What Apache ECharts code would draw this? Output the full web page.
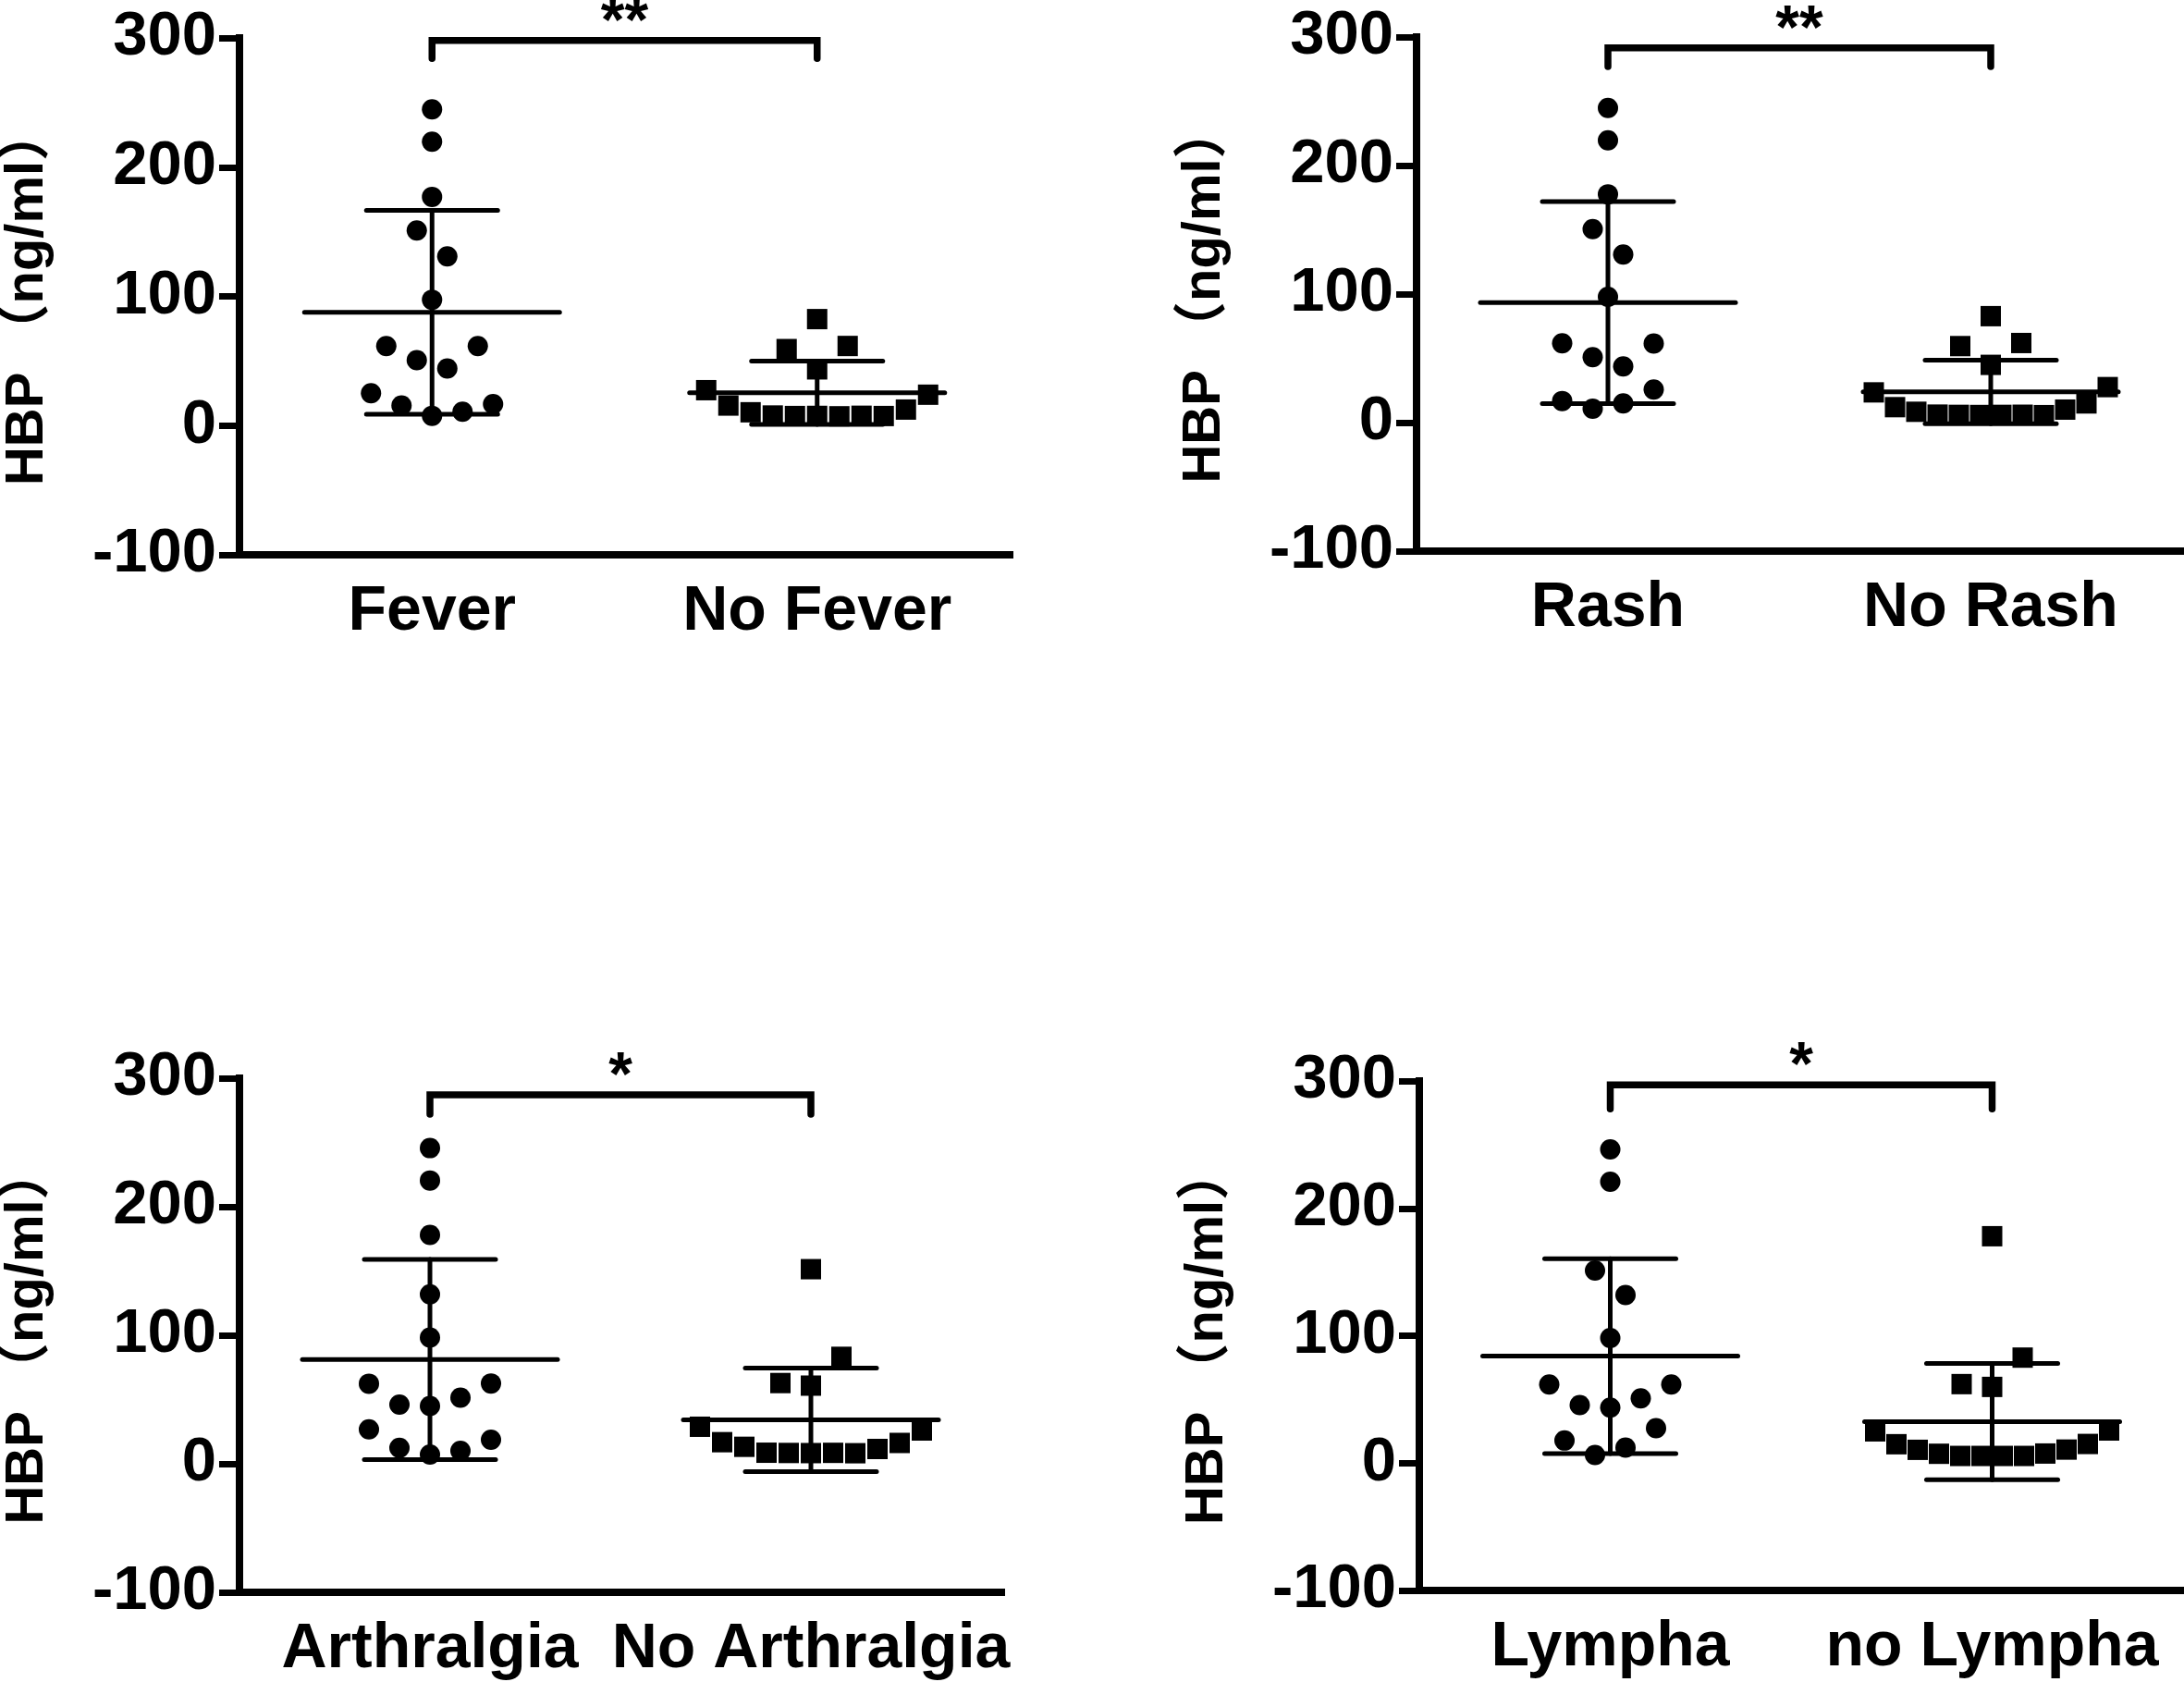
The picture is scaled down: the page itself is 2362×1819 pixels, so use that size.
<!DOCTYPE html>
<html>
<head>
<meta charset="utf-8">
<script src="https://cdn.jsdelivr.net/npm/echarts@6/dist/echarts.min.js"></script>
<style>
  html, body { margin: 0; padding: 0; background: #fff; }
  #chart { width: 2362px; height: 1819px; }
</style>
</head>
<body>
<div id="chart"></div>
<script>
// y axis ticks shared by all four panels
var yTicks = [-100, 0, 100, 200, 300];
var yTitle = 'HBP （ng/ml）';

// categories per panel
var catsFever = ['Fever', 'No Fever'];
var catsRash = ['Rash', 'No Rash'];
var catsArthralgia = ['Arthralgia', 'No Arthralgia'];
var catsLympha = ['Lympha', 'no Lympha'];

// HBP values (ng/ml), in entry order
var hbpFever = [244.7, 219.7, 177, 151, 131, 97.4, 61.6, 61.6, 50.6, 44.2, 25, 16.7, 15.5, 10.7, 7.6];
var hbpNoFever = [82.4, 59.2, 61.6, 43.5, 27.4, 23.9, 15.5, 12.4, 10.3, 7.4, 7.8, 7.6, 7.4, 7.2, 7.5];
var hbpRash = [244.8, 219.6, 177.6, 150.5, 130.8, 97.9, 61.7, 61.5, 50.9, 43.7, 16.8, 25.7, 10.8, 14.9];
var hbpNoRash = [82.8, 59.5, 61.9, 44.9, 23.5, 27.6, 12, 14.9, 8.4, 10.1, 6.2, 5.8, 6, 6.1, 5.9, 6];
var hbpArthralgia = [245.6, 220.4, 178, 131.8, 98.2, 62.3, 62.5, 46, 51.5, 45, 26.8, 18.7, 12.4, 10.1, 7.2];
var hbpNoArthralgia = [151.4, 62.8, 83.2, 60.8, 28.8, 25.9, 16.8, 16.2, 13.2, 11.5, 8.6, 8.2, 8.4, 8.5, 8.3];
var hbpLympha = [246.3, 220.9, 151.2, 131.9, 98.2, 61.7, 61.7, 45.5, 50.8, 43.5, 17.7, 27.4, 6.3, 12.1];
var hbpNoLympha = [178.1, 62, 82.8, 59.8, 24.9, 25.6, 14.8, 15, 10.4, 10.6, 7.3, 7.5, 5.6, 5.6, 5.6, 5.6];

// significance brackets: label, top of bracket, end of legs (HBP units)
var sigLabels = ['**', '**', '*', '*'];
var bracketTop = [298, 291.6, 287, 297];
var bracketLeg = [284, 277, 272, 278];

// ---- layout (pixels) ----
var FONT = "'Liberation Sans', Arial, 'Noto Sans CJK SC', sans-serif";
var grids = [
  { left: 258, top: 41, width: 834, height: 559 },
  { left: 1532, top: 40, width: 828, height: 556 },
  { left: 257, top: 1166, width: 826, height: 556 },
  { left: 1535, top: 1169, width: 826, height: 551 }
];
var SYMBOL = 22;
var MEAN_HALF = 138;
var CAP_HALF = 71;
var ROW_BIN = 24;        // values closer than this share one row of the swarm
var STEP_MAX = 33, STEP_MIN = 23, ROW_SPAN = 240;

var panels = [
  { cats: catsFever, groups: [hbpFever, hbpNoFever] },
  { cats: catsRash, groups: [hbpRash, hbpNoRash] },
  { cats: catsArthralgia, groups: [hbpArthralgia, hbpNoArthralgia] },
  { cats: catsLympha, groups: [hbpLympha, hbpNoLympha] }
];

function mean(arr) {
  var s = 0;
  for (var i = 0; i < arr.length; i++) s += arr[i];
  return s / arr.length;
}
function sd(arr) {
  var m = mean(arr), s = 0;
  for (var i = 0; i < arr.length; i++) s += (arr[i] - m) * (arr[i] - m);
  return Math.sqrt(s / (arr.length - 1));
}

/**
 * column scatter layout: points close in value go into one row,
 * then spread from the outside in, left / right alternately
 */
function swarmOffsets(values) {
  var idx = values.map(function (v, i) { return i; });
  idx.sort(function (a, b) { return values[a] - values[b] || a - b; });
  var offsets = [];
  var k = 0;
  while (k < idx.length) {
    var start = values[idx[k]];
    var row = [];
    while (k < idx.length && values[idx[k]] - start < ROW_BIN) {
      row.push(idx[k]);
      k++;
    }
    row.sort(function (a, b) { return a - b; });
    var n = row.length;
    var step = n > 1 ? Math.min(STEP_MAX, Math.max(STEP_MIN, ROW_SPAN / (n - 1))) : 0;
    for (var j = 0; j < n; j++) {
      var pos = (n - 1) / 2 - Math.floor(j / 2);
      var side = j % 2 === 0 ? -1 : 1;
      offsets[row[j]] = pos === 0 ? 0 : side * pos * step;
    }
  }
  return offsets;
}

function renderErr(params, api) {
  var x = api.value(0), m = api.value(1), s = api.value(2);
  var pm = api.coord([x, m]);
  var pt = api.coord([x, m + s]);
  var pb = api.coord([x, m - s]);
  function seg(x1, y1, x2, y2) {
    return {
      type: 'line',
      shape: { x1: x1, y1: y1, x2: x2, y2: y2 },
      style: { stroke: '#000', lineWidth: 5, lineCap: 'round' }
    };
  }
  return {
    type: 'group',
    children: [
      seg(pm[0] - MEAN_HALF, pm[1], pm[0] + MEAN_HALF, pm[1]),
      seg(pt[0], pt[1], pb[0], pb[1]),
      seg(pt[0] - CAP_HALF, pt[1], pt[0] + CAP_HALF, pt[1]),
      seg(pb[0] - CAP_HALF, pb[1], pb[0] + CAP_HALF, pb[1])
    ]
  };
}

function renderBracket(params, api) {
  var top = api.value(1), leg = api.value(2);
  var a = api.coord([0, top]);
  var b = api.coord([1, top]);
  var l = api.coord([0, leg]);
  return {
    type: 'group',
    children: [
      {
        type: 'polyline',
        shape: { points: [[a[0], l[1]], [a[0], a[1]], [b[0], b[1]], [b[0], l[1]]] },
        style: { stroke: '#000', fill: null, lineWidth: 7.5, lineCap: 'round', lineJoin: 'miter' }
      },
      {
        type: 'text',
        x: (a[0] + b[0]) / 2,
        y: a[1] - 18,
        style: {
          text: sigLabels[panelOfSeries[params.seriesIndex]],
          fill: '#000',
          font: 'bold 66px ' + FONT,
          align: 'center',
          verticalAlign: 'middle'
        }
      }
    ]
  };
}

var xAxes = [], yAxes = [], series = [], panelOfSeries = [];
panels.forEach(function (p, i) {
  xAxes.push({
    type: 'category',
    gridIndex: i,
    data: p.cats,
    boundaryGap: true,
    axisLine: { onZero: false, lineStyle: { color: '#000', width: 8, cap: 'square' } },
    axisTick: { alignWithLabel: true, length: 22, lineStyle: { color: '#000', width: 7 } },
    axisLabel: {
      interval: 0, hideOverlap: false,
      color: '#000', fontSize: 68, fontWeight: 'bold', fontFamily: FONT, margin: 28
    },
    splitLine: { show: false }
  });
  yAxes.push({
    type: 'value',
    gridIndex: i,
    min: yTicks[0],
    max: yTicks[yTicks.length - 1],
    interval: yTicks[1] - yTicks[0],
    name: yTitle,
    nameLocation: 'middle',
    nameGap: 200,
    nameTextStyle: { color: '#000', fontSize: 58, fontWeight: 'bold', fontFamily: FONT },
    axisLine: { show: true, onZero: false, lineStyle: { color: '#000', width: 8, cap: 'square' } },
    axisTick: { show: true, length: 22, lineStyle: { color: '#000', width: 7 } },
    axisLabel: { color: '#000', fontSize: 67, fontWeight: 'bold', fontFamily: FONT, margin: 25 },
    splitLine: { show: false }
  });

  // mean +/- SD
  panelOfSeries[series.length] = i;
  series.push({
    type: 'custom',
    xAxisIndex: i,
    yAxisIndex: i,
    renderItem: renderErr,
    silent: true,
    z: 2,
    data: p.groups.map(function (g, gi) { return [gi, mean(g), sd(g)]; })
  });

  // individual values
  p.groups.forEach(function (g, gi) {
    var offs = swarmOffsets(g);
    panelOfSeries[series.length] = i;
    series.push({
      type: 'scatter',
      xAxisIndex: i,
      yAxisIndex: i,
      symbol: gi === 0 ? 'circle' : 'rect',
      symbolSize: SYMBOL,
      itemStyle: { color: '#000', opacity: 1 },
      silent: true,
      z: 3,
      data: g.map(function (v, k) {
        return { value: [gi, v], symbolOffset: [offs[k], 0] };
      })
    });
  });

  // significance bracket
  panelOfSeries[series.length] = i;
  series.push({
    type: 'custom',
    xAxisIndex: i,
    yAxisIndex: i,
    renderItem: renderBracket,
    silent: true,
    clip: false,
    z: 4,
    data: [[0, bracketTop[i], bracketLeg[i]]]
  });
});

var myChart = echarts.init(document.getElementById('chart'), null, { renderer: 'canvas' });
myChart.setOption({
  backgroundColor: '#fff',
  animation: false,
  grid: grids,
  xAxis: xAxes,
  yAxis: yAxes,
  series: series
});
</script>
</body>
</html>
